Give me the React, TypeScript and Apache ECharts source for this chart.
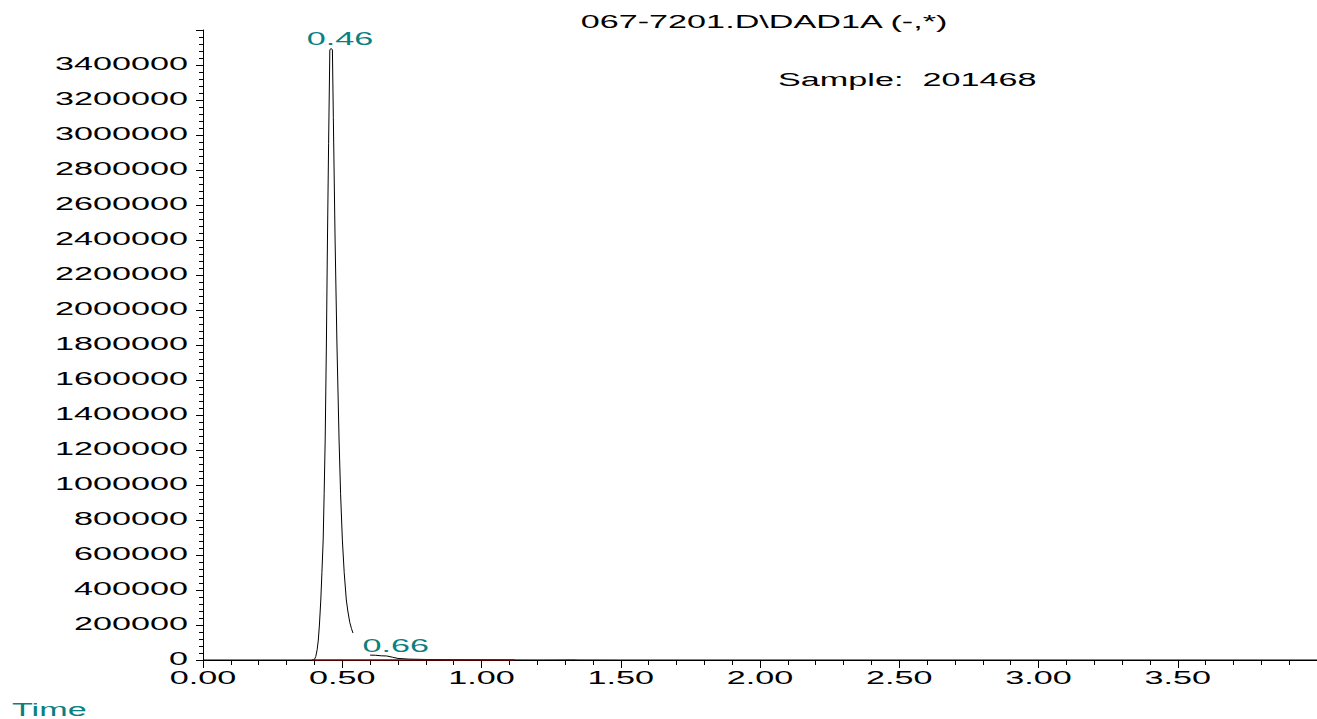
import React, { useEffect, useRef } from "react";
import * as echarts from "echarts";

// Main peak (retention ~0.46 min)
const peakTimes = [0, 0.39, 0.395, 0.4, 0.405, 0.41, 0.414, 0.418, 0.423, 0.427, 0.4315, 0.435, 0.4387, 0.443, 0.4469, 0.451, 0.4554, 0.46, 0.4647, 0.468, 0.4743, 0.481, 0.4886, 0.494, 0.5004, 0.507, 0.5146, 0.52, 0.527, 0.533, 0.5385];
const peakValues = [0, 0, 0, 3000, 20000, 60000, 114000, 200000, 343000, 500000, 686000, 950000, 1257000, 1800000, 2400000, 2950000, 3486000, 3495000, 3486000, 3100000, 2400000, 1800000, 1257000, 950000, 686000, 500000, 343000, 280000, 215000, 180000, 154000];
// Trace after the gap (small peak ~0.66 min)
const tailTimes = [0.6, 0.62, 0.64, 0.66, 0.68, 0.7, 0.74, 0.8, 0.9, 1.0, 1.1, 1.2, 1.3, 1.32, 1.35, 1.5, 4.0];
const tailValues = [28000, 27000, 24000, 23000, 16000, 9000, 5000, 3000, 1500, 1000, 500, 200, 800, 1200, 300, 0, 0];
// Integration baseline
const baselineTimes = [0.39, 1.12];
const baselineValues = [0, 0];
// Peak annotations
const peakLabelTimes = [0.46, 0.66];
const peakLabelHeights = [3495000, 23000];
const peakLabelTexts = ["0.46", "0.66"];
// Tick labels
const yTickValues = [0, 200000, 400000, 600000, 800000, 1000000, 1200000, 1400000, 1600000, 1800000, 2000000, 2200000, 2400000, 2600000, 2800000, 3000000, 3200000, 3400000];
const xTickValues = [0, 0.5, 1.0, 1.5, 2.0, 2.5, 3.0, 3.5];

const TITLE = "067-7201.D\\DAD1A (-,*)";
const SAMPLE = "Sample:  201468";
const X_NAME = "Time";

const FONT_FAMILY = '"Liberation Sans", Arial, sans-serif';
const FONT_SIZE = 18;
const STRETCH = 1.9;
const TEAL = "#0a8080";

export default function App() {
  const ref = useRef<HTMLDivElement>(null);
  useEffect(() => {
    document.body.style.margin = "0";
    if (!ref.current) return;
    const chart = echarts.init(ref.current, null, { renderer: "svg" });
    const mainData: any[] = peakTimes.map((t, i) => [t, peakValues[i]]);
    mainData.push([0.57, null]);
    tailTimes.forEach((t, i) => mainData.push([t, tailValues[i]]));
    const baseData = baselineTimes.map((t, i) => [t, baselineValues[i]]);

    chart.setOption({
      animation: false,
      grid: { left: 203, right: -8, top: 30, bottom: 59, containLabel: false },
      xAxis: {
        type: "value",
        min: 0,
        max: 4,
        interval: 0.5,
        axisLine: { show: true, onZero: false, lineStyle: { color: "#000", width: 1 } },
        axisTick: { show: true, length: 8, lineStyle: { color: "#000" } },
        minorTick: { show: true, splitNumber: 5, length: 5, lineStyle: { color: "#000" } },
        axisLabel: { show: false },
        splitLine: { show: false },
      },
      yAxis: {
        type: "value",
        min: 0,
        max: 3600000,
        interval: 200000,
        axisLine: { show: true, lineStyle: { color: "#000", width: 1 } },
        axisTick: { show: true, length: 7, lineStyle: { color: "#000" } },
        minorTick: { show: true, splitNumber: 5, length: 4, lineStyle: { color: "#000" } },
        axisLabel: { show: false },
        splitLine: { show: false },
      },
      series: [
        {
          type: "line",
          data: mainData,
          showSymbol: false,
          connectNulls: false,
          smooth: false,
          lineStyle: { color: "#000", width: 1 },
          z: 3,
        },
        {
          type: "line",
          data: baseData,
          showSymbol: false,
          lineStyle: { color: "#8b0000", width: 1.5 },
          z: 4,
        },
      ],
    });

    const txt = (text: string, x: number, y: number, align: string, vAlign: string, color = "#000") => ({
      type: "text",
      x,
      y,
      scaleX: STRETCH,
      silent: true,
      style: {
        text,
        x: 0,
        y: 0,
        align,
        verticalAlign: vAlign,
        fontSize: FONT_SIZE,
        fontFamily: FONT_FAMILY,
        fill: color,
      },
    });

    const graphics: any[] = [];
    yTickValues.forEach((v) => {
      const p = chart.convertToPixel({ gridIndex: 0 }, [0, v]) as number[];
      graphics.push(txt(String(v), p[0] - 15, p[1] - 1, "right", "middle"));
    });
    xTickValues.forEach((v) => {
      const p = chart.convertToPixel({ gridIndex: 0 }, [v, 0]) as number[];
      graphics.push(txt(v.toFixed(2), p[0], p[1] + 9, "center", "top"));
    });
    peakLabelTimes.forEach((t, i) => {
      const p = chart.convertToPixel({ gridIndex: 0 }, [t, peakLabelHeights[i]]) as number[];
      graphics.push(txt(peakLabelTexts[i], p[0] + 9, p[1] - 10, "center", "middle", TEAL));
    });
    graphics.push(txt(TITLE, 764, 22, "center", "middle"));
    graphics.push(txt(SAMPLE, 778, 80, "left", "middle"));
    graphics.push(txt(X_NAME, 12, 710, "left", "middle", TEAL));

    chart.setOption({ graphic: { elements: graphics } });

    return () => chart.dispose();
  }, []);
  return <div ref={ref} style={{ width: 1317, height: 719 }} />;
}
